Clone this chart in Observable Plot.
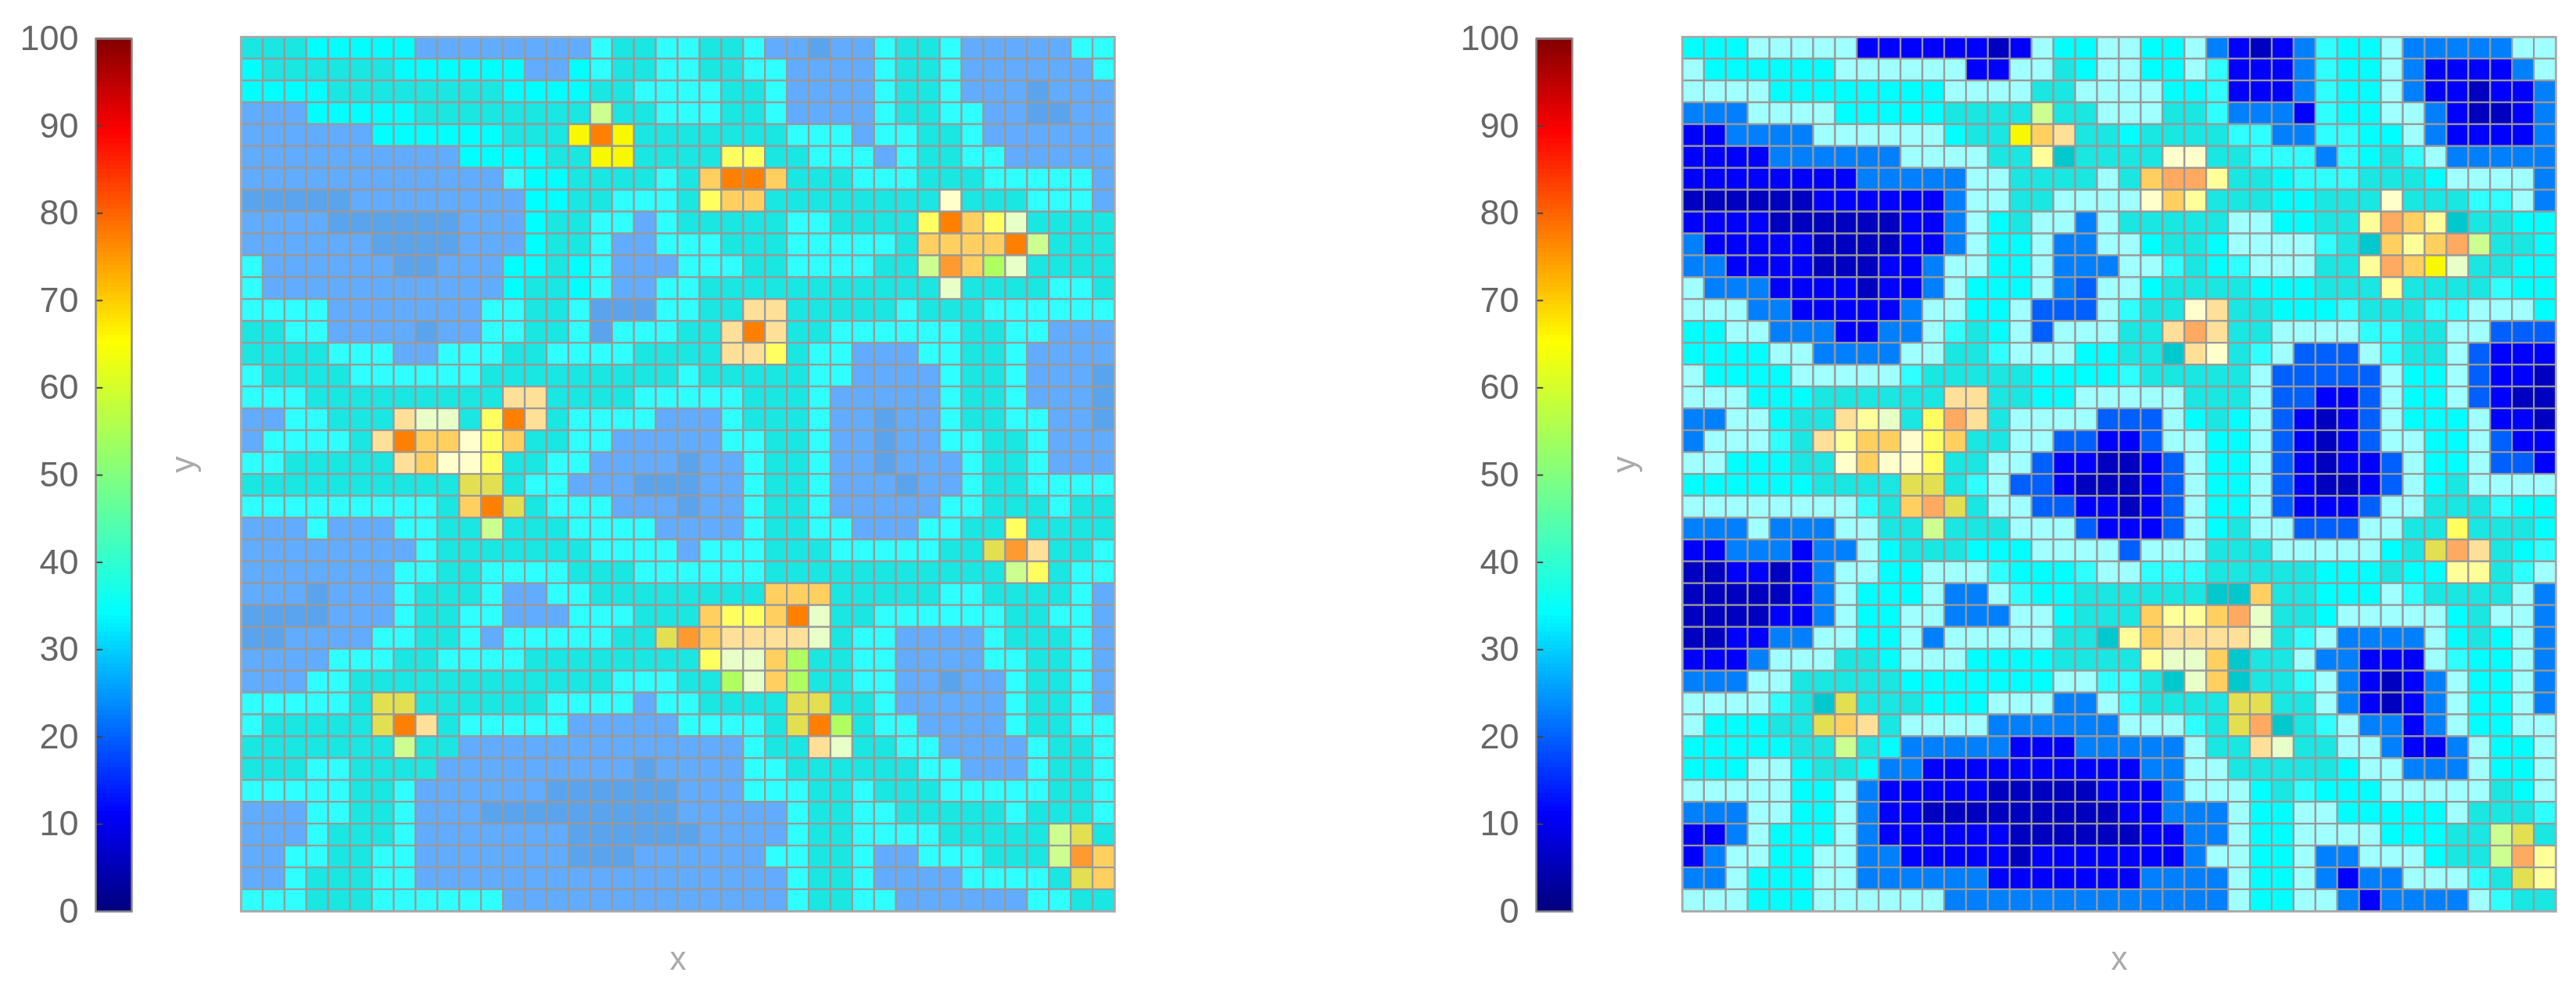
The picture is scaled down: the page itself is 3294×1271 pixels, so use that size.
<!DOCTYPE html>
<html>
<head>
<meta charset="utf-8">
<script src="https://cdn.jsdelivr.net/npm/d3@7"></script>
<script src="https://cdn.jsdelivr.net/npm/@observablehq/plot@0.6"></script>
<style>
html,body{margin:0;padding:0;background:#fff}
#page{position:relative;width:3294px;height:1271px;overflow:hidden;filter:blur(0.7px)}
#page svg{position:absolute;top:0;background:transparent;overflow:visible}
</style>
</head>
<body>
<div id="page"></div>
<script>
const cellCodes  = ["N","L","a","m","b","d","P","c","w","t","K","g","G","M","y","Y","F","n","e","p","o","R","A","O"];
const cellColors = ["#0000c0","#0000ff","#0060ff","#0080ff","#62acff","#5aa4ee","#a0ffff","#00ffff","#30ffff","#1ae6e2","#00c8cc","#ccff90","#b0ff60","#e2e050","#f8f800","#ffff60","#ffff99","#ffffcc","#e8ffc8","#ffe098","#ffd060","#ff9a30","#ffaa60","#ff8000"];

const leftRows = [
"tttcccccbbbbbbbbwttwwttwbbdbbwttwbbbbbww",
"cttttttccccccbbcwttwwttwwbbbbwttwbbbbbbw",
"ccccttttttttccccttwwwwttwbbbbwttwbbbdbbb",
"bbbcccccttttttttgttwwwttwbbbbwttwwbbddbb",
"bbbbbbcccccctttyOytttttttwwwbwwttwbbbbbb",
"bbbbbbbbbbccccttyyttttYYttwwwbwttwwbbbbb",
"bbbbbbbbbbbbwccttttwtoOOotttwwwtttwwwwwb",
"dddddbbbbbbbbccttwwwtYoottttttttntttwwwb",
"bbbbddddddbbbcttwwbwtttttwwttttYOoYetttt",
"bbbbbbddddbbbcttwbbwwwtttwwwwwtooooOgttt",
"wbbbbbbddbbbcctcwbbbwwwttwwwwttgRoGetttt",
"wbbbbbbbbbbbcttcwbbwwtttttttttttettttwwt",
"wwwwbbbbbbbwwttwdddwwttpptttttwtttwwwwww",
"ttwwbbbbdbbwwttwdwwwttpOpttwwwwwwttwwbbb",
"ttttwwwbbwwwttwwwwttttppYtwwbbbwwttwbbbb",
"wttttwwwwwwtttttttttwtttttwwbbbbwttwbbbd",
"wwwtttttttttppttttwwwwwtttwbbbbbwttwbbbd",
"bbwwtttpeetYOptwwwwbbbwtttwbbdbbwttwwbbd",
"bwwwwtpOoonYottwwbbbbbwwttwbbdbbwwttwbbb",
"wwtttttponnYttwwbbbbdbbwttwbbdbbbwttwbbb",
"ttttttttttMMtwwbbbdddbbwttwbbbdbbwttwwww",
"wwwwwwwwwtoOMtwwwbbbdbbwttwbbbbbwwtttwtt",
"bbbwbbbwwttgtttwwwwbbbbwttwwbbbwwttYtttt",
"bbbbbbbbwtttttttwwwwbwwwtttwwwwwttMRpttw",
"bbbbbbbwwttwwwwtttwwwwwwtttttttttttgYtww",
"bbbdbbbwtttwbbwwttttttttoootttttwwttttwb",
"ddddbbbwttwwbbbwwwtttoYYoOettwwwwwwttwwb",
"ddbbbbwwttwbwwwwwttMRoppppetwwbbbbwtttwb",
"bbbbwwwttwwwwttttttttYeeoGttwwbbbbwwttwb",
"bbbwwttttttttttttwwwttGeoGttwwbbdbbwttwb",
"wwwwwtMMttttttwwwwbwwttttMMttwbbbbbwttwb",
"wtttttMOptwwwwwbbbbbwwwwtMOGtwwbbbbwttww",
"tttttttgttbbbbbbbbbbbbbwttpettwwbbbbwttw",
"tttwwttttbbbbbbbbbdbbbbwwttttttwwbbbwttw",
"wwwwwttwbbbbbbddddddbbbwwwttwtttwwwwwttw",
"bbbwwttwbbbdddddddddbbbbbwttwwtttttwtttw",
"bbbwtttwbbbbbbbddddddbbbbwttwwwwtttttgMt",
"bbwwttwwbbbbbbbdddbbbbbbwwttwbbwwwtttgRo",
"bbwtttwwbbbbbbbbbbbbbbbbbwttwbbbbwwwwtMo",
"wwwtttwwwwwwbbbbbbbbbbbbbwttwwbbbbbbwwtt"
];

const rightRows = [
"cccPPPPPLLLLLLNLPccPPccPmLNLmwccPmmmmmPP",
"PccccccPPPPPPLLPPtcPPccPwLLLmwccPmLLLLmP",
"PPPPccccccccPPPPttPPPPccwLLLmwccPmLLNLLm",
"mmmPPPPcccccttttgttPPPttwmmmLwccPPmLNNLm",
"LLmmmmPPPPPPcttyopttcttttwwmmwwccPmLLLLm",
"LLLLmmmmmmPPPPttFKttttnnttwwwmwctwPmmmmm",
"LLLLLLLLmmmmmPPttttPtoAAFttcwwwtttcPPPPm",
"NNNNNNLLLLLLmPPttPPPPnoFtttcctttntttwwPm",
"LLLLNNNNNNLLmPctPPmPtttttPPccttFAoFKttcc",
"mLLLLLNNNNLLmPccPmmPPcttcPPPPwtKoFoAgttc",
"mmLLLLNNNLLmPPccPmmmPPwtcwPPPttFAoyettcc",
"PmmmLLLLNLLmPcccPmaPPcttttccctttFttttwcc",
"PPPmmLLLLLmPPccPaaaPwttnpttcccwtttwwPPPc",
"ccPPmmmLLmmPwtcPaPPPttpApttPPPPwwttPPaaa",
"ccccPPmmmmPPttwPPPccttKpntwPaaaPwttPaLLL",
"PccccPPPPPwtttttccccwtttttPaaaaaPccPaLLN",
"PPPcccttttttppttccPPPPPtttPaaLLaPccPaLNN",
"mmPPcttpFetYAptPPPPaaaPctcPaLNLaPcccPLLN",
"mPPPwtpFoonYottPPaaLLaPPccPaLNLaPPccPaLL",
"PPcccttnonnYttPPaLLNNLaPccPaLNLLaPccPaaL",
"ccccccttttMMtwPaaLNNNLaPccPaLNNLaPctPPPP",
"PPPPPPPPwtoAMtPPaaLLNLaPccPaLLLaPPtttwcc",
"mmmPmmmPPttgtttPPPaLLLaPctPPaaaPPttYtttc",
"LLmmmLmmPctttcccPPPPaPPPtttPPPPPctMAptcw",
"NNLLNLmPPccPPPwcccwPPwwwtttttccctccFFtwP",
"NNNNNLmPcccPmmPwccttttttKKottcccPwttttPm",
"NNNNLLmPccPPmmmPPctttoFFoAettcPPPPPctPPm",
"NNLLmmPPccPmPPPPPttKFoppppetwPmmmmPctcPm",
"LLLmPPPttcPPPcccctttttFeeoKttPmmLLLPwccPm".replace("tttttF","ttttF"),
"mmmPPtttttcccccccPPwwtKeoKttwPmLNLmPccPm",
"PPPPwtKMtttcccPPPmmPwttttMMttPmLNLmPccPm",
"PcccttMoptPPPPmmmmmmPPPwtMAKtwPmmLmPccPP",
"cccccttgtcmmmmmLLLmmmmmPttpettPPmLLmPccP",
"cccPPcttcmmLLLLLLLLLLmmPPtttttcPPmmmPccP",
"PPPPPccPmLLLLLNNNNNLLLmPPPctwcccPPPPPtcP",
"mmmPPccPmLLNNNNNNNNNLLmmmPccPPcccccPtttw",
"LLmPcccPmLLLLLLNNNNNNLLmmPccPPPPcccttgMt",
"LmPPccPPmmLLLLLNLLLLLLLmPPccPmmPPPcttgAF",
"mmPcccPPmmmmmmLLLLLLLmmmmPccPmLmmPPPwtMF",
"PPPcccPPPPPPmmmmmmmmmmmmmPccPPmLmmmmPwtt"
];

// Ticks and jet colour ramp of the colour bar
const barTicks = [0,10,20,30,40,50,60,70,80,90,100];
const jetStops = [0,11,34,65,89,100];
const jetColors = ["#00007f","#0000ff","#00ffff","#ffff00","#ff0000","#7f0000"];
const barRamp = d3.range(0,100,0.5);

const H = 1271;
const frameTop = 47, frameBottom = 1165;
const fontFamily = "'Liberation Sans', Arial, sans-serif";

function colorbar(left){
  const mL = 120;
  const svg = Plot.plot({
    width: mL + 46, height: H, marginLeft: mL, marginRight: 0,
    marginTop: frameTop + 2, marginBottom: H - frameBottom,
    style: {fontFamily, fontSize: "45px", color: "#666"},
    x: {domain:[0,1], axis:null},
    y: {domain:[0,100], axis:null},
    color: {type:"linear", domain: jetStops, range: jetColors, interpolate:"rgb"},
    marks: [
      Plot.rectY(barRamp, {x1:0, x2:1, y1:d=>d, y2:d=>d+0.6, fill:d=>d, shapeRendering:"crispEdges"}),
      Plot.ruleY(barTicks.slice(1,-1), {x1:0, x2:0.2, stroke:"#444", strokeWidth:2}),
      Plot.frame({stroke:"#888", strokeWidth:2.5}),
      Plot.axisY({ticks:barTicks, tickSize:0, tickPadding:22, tickFormat:d=>String(d), fill:"#666", fontSize:45})
    ]
  });
  svg.style.left = (left - mL) + "px";
  return svg;
}

function heat(rows, left){
  const mL = 90;
  const cells = rows.flatMap((r,i)=>Array.from(r).map((c,j)=>({col:j,row:i,code:c})));
  const svg = Plot.plot({
    width: mL + 1117, height: H, marginLeft: mL, marginRight: 0,
    marginTop: frameTop, marginBottom: H - frameBottom,
    style: {fontFamily},
    x: {type:"band", domain:d3.range(40), padding:0, axis:null},
    y: {type:"band", domain:d3.range(40), padding:0, axis:null},
    color: {type:"ordinal", domain:cellCodes, range:cellColors},
    marks: [
      Plot.cell(cells, {x:"col", y:"row", fill:"code", stroke:"#999", strokeWidth:2.2}),
      Plot.frame({stroke:"#aaa", strokeWidth:2.5}),
      Plot.text(["x"], {frameAnchor:"bottom", dy:74, fontSize:42, fill:"#aaa"}),
      Plot.text(["y"], {frameAnchor:"left", dx:-74, dy:-2, rotate:-90, fontSize:42, fill:"#aaa"})
    ]
  });
  svg.style.left = (left - mL) + "px";
  return svg;
}

const page = document.getElementById("page");
page.append(colorbar(122), heat(leftRows, 308), colorbar(1964), heat(rightRows, 2151));
</script>
</body>
</html>
